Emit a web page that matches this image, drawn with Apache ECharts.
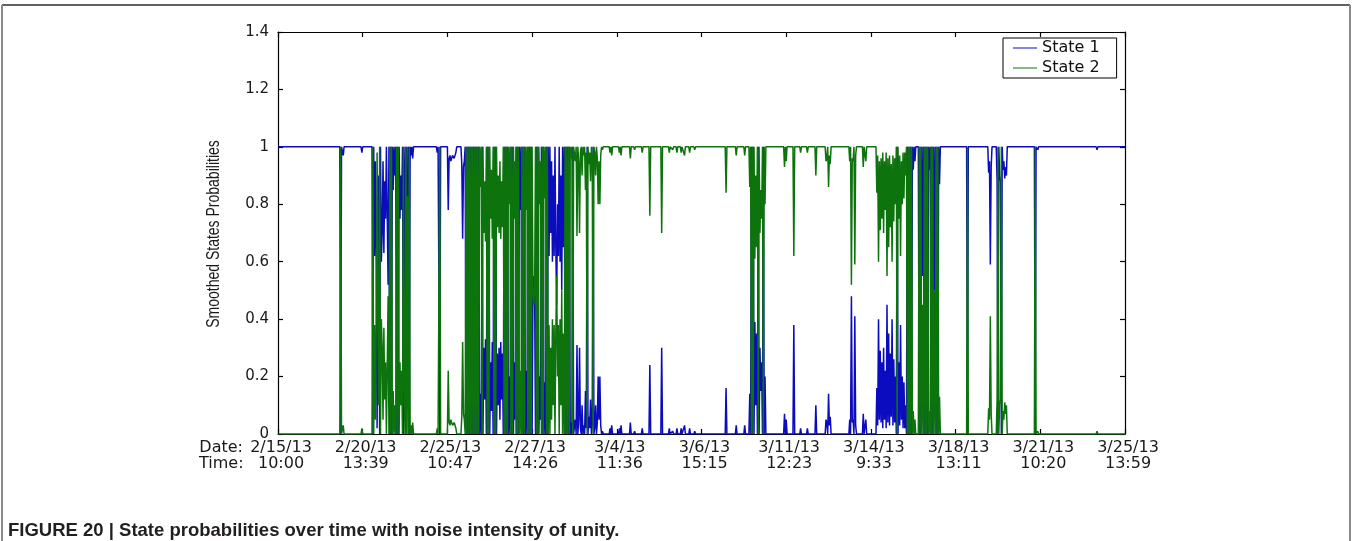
<!DOCTYPE html>
<html>
<head>
<meta charset="utf-8">
<script src="https://cdn.jsdelivr.net/npm/echarts@6/dist/echarts.min.js"></script>
<style>
  html, body { margin: 0; padding: 0; background: #ffffff; }
  #chart { width: 1352px; height: 541px; }
</style>
</head>
<body>
<div id="chart"></div>
<script>
// Tick labels of the sample-index axis (one every 100 samples)
const dateLabels = ['2/15/13', '2/20/13', '2/25/13', '2/27/13', '3/4/13', '3/6/13', '3/11/13', '3/14/13', '3/18/13', '3/21/13', '3/25/13'];
const timeLabels = ['10:00', '13:39', '10:47', '14:26', '11:36', '15:15', '12:23', '9:33', '13:11', '10:20', '13:59'];
const yTickLabels = ['0', '0.2', '0.4', '0.6', '0.8', '1', '1.2', '1.4'];
const seriesNames = ['State 1', 'State 2'];

// Smoothed probability of State 1, as [sample index, probability]
const state1 = [
  [0,1],[73,1],[74,0],[75,1],[77,.97],[78,1],[98,1],[99,.98],[100,1],
  [111,1],[112,0],[113,1],[114,.62],[115,.95],[116,.6],[117,.02],[118,.65],[119,.9],[120,0],[121,1],[122,.6],[123,.7],[124,.95],[125,.63],[126,.88],[127,.75],[128,1],[129,1],[130,.52],[131,1],[132,0],[133,1],[134,0],[135,1],[136,.85],[137,1],[138,.9],[139,1],[140,0],[141,1],[142,0],[143,1],[144,.75],[145,.9],[146,.78],[147,1],[148,0],[149,.85],[150,1],[151,0],[152,1],[153,.17],[154,1],[155,0],[156,1],[157,.97],[158,1],[159,.96],[160,1],
  [187,1],[188,.98],[189,1],[190,1],[191,0],[192,1],[200,1],[201,.78],[202,.96],[203,.97],[204,.95],[206,.97],[208,.96],[210,.98],[211,1],[216,1],[217,.94],[218,.68],[219,.93],[220,.95],[221,1],[222,0],[223,1],
  [224,0],[225,1],[226,0],[227,1],[228,0],[229,1],[230,0],[231,1],[232,0],[233,1],[234,0],[235,1],[236,0],[237,1],[238,0],[239,.14],[240,0],[241,1],[242,0],[243,.3],[244,.12],[245,.33],[246,0],[247,1],[248,0],[249,1],[250,0],[251,.25],[252,.08],[253,.32],[254,0],[255,1],[256,0],[257,1],[258,0],[259,.28],[260,.1],[261,.3],[262,.05],[263,.32],[264,.12],[265,.28],[266,0],[267,1],
  [268,0],[269,1],[270,0],[271,1],[272,0],[273,.2],[274,0],[275,1],[276,0],[277,1],[278,0],[279,.25],[280,.05],[281,1],[282,0],[283,1],[284,0],[285,1],
  [286,.78],[287,1],[288,0],[289,1],[290,0],[291,1],[292,0],[293,.22],[294,0],[295,1],[296,0],[297,1],[298,0],[299,1],[300,0],
  [301,.5],[302,.55],[303,.5],[304,0],[305,1],[306,0],[307,1],[308,0],[309,.2],[310,.05],[311,1],[312,0],[313,1],[314,0],[315,.18],[316,0],[317,1],[318,0],
  [319,1],[320,.62],[321,1],[322,.7],[323,.95],[324,.6],[325,.9],[326,.62],[327,1],[328,.65],[329,.45],[330,.8],[331,.62],[332,1],[333,.6],[334,.9],[335,.5],[336,1],[337,.65],[338,1],
  [339,0],[340,1],[341,0],[342,1],[343,0],[344,1],[345,0],[346,.04],[347,0],[348,1],[349,0],[351,.05],[352,0],[353,.31],[354,0],[355,.05],[356,.3],[357,.02],[358,0],[359,.1],[360,0],[361,.03],[362,0],[363,.15],[364,.02],[365,1],[366,0],[367,.06],[368,.02],[369,.12],[370,0],[371,.03],[372,1],[373,0],[374,.02],[375,.1],[376,0],[377,.04],[378,.2],[379,.05],[380,.2],[381,.03],[382,0],[383,.01],[384,0],
  [391,0],[392,.02],[393,0],[394,.03],[395,0],[402,0],[403,.02],[404,0],[405,.03],[406,0],[415,0],[416,.04],[417,0],[420,0],[421,.01],[422,0],[429,0],[430,.02],[431,0],[438,0],[439,.24],[440,0],[452,0],[453,.3],[454,0],[461,0],[462,.02],[463,0],[466,.01],[467,0],[470,0],[471,.02],[472,0],[475,0],[476,.02],[477,0],[480,.03],[481,0],[485,0],[486,.02],[487,0],[491,0],[492,.01],[493,0],
  [528,0],[529,.16],[530,0],[540,0],[541,.03],[542,0],[550,0],[551,.03],[552,0],[556,0],[557,.14],[558,0],[559,1],[560,0],[561,1],[562,0],[563,.39],[564,.1],[565,.35],[566,0],[567,1],[568,0],[569,.3],[570,.15],[571,.25],[572,0],[573,1],[574,0],[575,.2],[576,0],
  [597,0],[598,.07],[599,0],[600,.05],[601,0],[608,0],[609,.38],[610,0],[616,0],[617,.02],[618,0],[624,0],[625,.02],[626,0],[634,0],[635,.1],[636,0],[646,0],[647,.05],[648,.04],[649,0],[650,.14],[651,.03],[652,.06],[653,0],[674,0],[675,.05],[676,0],[677,.48],[678,.04],[679,.05],[680,0],[681,.41],[682,.03],[683,0],[690,0],[691,.07],[692,0],[694,.05],[695,0],
  [706,0],[707,.16],[708,.03],[709,.4],[710,.05],[711,.29],[712,.04],[713,.25],[714,.02],[715,.3],[716,.05],[717,.22],[718,.02],[719,.45],[720,.04],[721,.35],[722,.03],[723,.28],[724,.06],[725,.4],[726,.03],[727,.26],[728,.04],[729,.2],[730,0],[731,1],[732,0],[733,.25],[734,.03],[735,.38],[736,.05],[737,.2],[738,.02],[739,.18],[740,.02],[741,.1],[742,0],[743,1],[744,0],[745,1],[746,0],[747,1],[748,0],[749,1],
  [750,.92],[751,1],[752,.95],[753,1],[756,1],[757,0],[758,1],[759,0],[760,1],[761,.55],[762,1],[763,0],[764,1],[765,0],[766,1],[767,0],[768,1],[769,.92],[770,1],[771,0],[772,1],[773,0],[774,1],[775,.5],[776,1],[777,0],[778,1],[779,0],[780,1],[781,.87],[782,1],
  [813,1],[814,0],[815,1],[838,1],[839,.91],[840,.95],[841,.59],[842,.93],[843,1],[848,1],[849,.88],[850,0],[851,1],[852,.9],[853,.88],[854,0],[855,1],[856,.92],[857,.95],[858,.89],[859,.93],[860,.9],[861,1],
  [893,1],[894,0],[895,1],[896,1],[897,.99],[898,1],[966,1],[967,.99],[968,1],[1000,1]
];

// Smoothed probability of State 2, as [sample index, probability]
const state2 = [
  [0,0],[73,0],[74,1],[75,0],[77,.03],[78,0],[98,0],[99,.02],[100,0],
  [111,0],[112,1],[113,0],[114,.38],[115,.05],[116,.4],[117,.98],[118,.35],[119,.1],[120,1],[121,0],[122,.4],[123,.3],[124,.05],[125,.37],[126,.12],[127,.25],[128,0],[129,0],[130,.48],[131,0],[132,1],[133,0],[134,1],[135,0],[136,.15],[137,0],[138,.1],[139,0],[140,1],[141,0],[142,1],[143,0],[144,.25],[145,.1],[146,.22],[147,0],[148,1],[149,.15],[150,0],[151,1],[152,0],[153,.83],[154,0],[155,1],[156,0],[157,.03],[158,0],[159,.04],[160,0],
  [187,0],[188,.02],[189,0],[190,0],[191,1],[192,0],[200,0],[201,.22],[202,.04],[203,.03],[204,.05],[206,.03],[208,.04],[210,.02],[211,0],[216,0],[217,.06],[218,.32],[219,.07],[220,.05],[221,0],[222,1],[223,0],
  [224,1],[225,0],[226,1],[227,0],[228,1],[229,0],[230,1],[231,0],[232,1],[233,0],[234,1],[235,0],[236,1],[237,0],[238,1],[239,.86],[240,1],[241,0],[242,1],[243,.7],[244,.88],[245,.67],[246,1],[247,0],[248,1],[249,0],[250,1],[251,.75],[252,.92],[253,.68],[254,1],[255,0],[256,1],[257,0],[258,1],[259,.72],[260,.9],[261,.7],[262,.95],[263,.68],[264,.88],[265,.72],[266,1],[267,0],
  [268,1],[269,0],[270,1],[271,0],[272,1],[273,.8],[274,1],[275,0],[276,1],[277,0],[278,1],[279,.75],[280,.95],[281,0],[282,1],[283,0],[284,1],[285,0],
  [286,.22],[287,0],[288,1],[289,0],[290,1],[291,0],[292,1],[293,.78],[294,1],[295,0],[296,1],[297,0],[298,1],[299,0],[300,1],
  [301,.5],[302,.45],[303,.5],[304,1],[305,0],[306,1],[307,0],[308,1],[309,.8],[310,.95],[311,0],[312,1],[313,0],[314,1],[315,.82],[316,1],[317,0],[318,1],
  [319,0],[320,.38],[321,0],[322,.3],[323,.05],[324,.4],[325,.1],[326,.38],[327,0],[328,.35],[329,.55],[330,.2],[331,.38],[332,0],[333,.4],[334,.1],[335,.5],[336,0],[337,.35],[338,0],
  [339,1],[340,0],[341,1],[342,0],[343,1],[344,0],[345,1],[346,.96],[347,1],[348,0],[349,1],[351,.95],[352,1],[353,.69],[354,1],[355,.95],[356,.7],[357,.98],[358,1],[359,.9],[360,1],[361,.97],[362,1],[363,.85],[364,.98],[365,0],[366,1],[367,.94],[368,.98],[369,.88],[370,1],[371,.97],[372,0],[373,1],[374,.98],[375,.9],[376,1],[377,.96],[378,.8],[379,.95],[380,.8],[381,.97],[382,1],[383,.99],[384,1],
  [391,1],[392,.98],[393,1],[394,.97],[395,1],[402,1],[403,.98],[404,1],[405,.97],[406,1],[415,1],[416,.96],[417,1],[420,1],[421,.99],[422,1],[429,1],[430,.98],[431,1],[438,1],[439,.76],[440,1],[452,1],[453,.7],[454,1],[461,1],[462,.98],[463,1],[466,.99],[467,1],[470,1],[471,.98],[472,1],[475,1],[476,.98],[477,1],[480,.97],[481,1],[485,1],[486,.98],[487,1],[491,1],[492,.99],[493,1],
  [528,1],[529,.84],[530,1],[540,1],[541,.97],[542,1],[550,1],[551,.97],[552,1],[556,1],[557,.86],[558,1],[559,0],[560,1],[561,0],[562,1],[563,.61],[564,.9],[565,.65],[566,1],[567,0],[568,1],[569,.7],[570,.85],[571,.75],[572,1],[573,0],[574,1],[575,.8],[576,1],
  [597,1],[598,.93],[599,1],[600,.95],[601,1],[608,1],[609,.62],[610,1],[616,1],[617,.98],[618,1],[624,1],[625,.98],[626,1],[634,1],[635,.9],[636,1],[646,1],[647,.95],[648,.96],[649,1],[650,.86],[651,.97],[652,.94],[653,1],[674,1],[675,.95],[676,1],[677,.52],[678,.96],[679,.95],[680,1],[681,.59],[682,.97],[683,1],[690,1],[691,.93],[692,1],[694,.95],[695,1],
  [706,1],[707,.84],[708,.97],[709,.6],[710,.95],[711,.71],[712,.96],[713,.75],[714,.98],[715,.7],[716,.95],[717,.78],[718,.98],[719,.55],[720,.96],[721,.65],[722,.97],[723,.72],[724,.94],[725,.6],[726,.97],[727,.74],[728,.96],[729,.8],[730,1],[731,0],[732,1],[733,.75],[734,.97],[735,.62],[736,.95],[737,.8],[738,.98],[739,.82],[740,.98],[741,.9],[742,1],[743,0],[744,1],[745,0],[746,1],[747,0],[748,1],[749,0],
  [750,.08],[751,0],[752,.05],[753,0],[756,0],[757,1],[758,0],[759,1],[760,0],[761,.45],[762,0],[763,1],[764,0],[765,1],[766,0],[767,1],[768,0],[769,.08],[770,0],[771,1],[772,0],[773,1],[774,0],[775,.5],[776,0],[777,1],[778,0],[779,1],[780,0],[781,.13],[782,0],
  [813,0],[814,1],[815,0],[838,0],[839,.09],[840,.05],[841,.41],[842,.07],[843,0],[848,0],[849,.12],[850,1],[851,0],[852,.1],[853,.12],[854,1],[855,0],[856,.08],[857,.05],[858,.11],[859,.07],[860,.1],[861,0],
  [893,0],[894,1],[895,0],[896,0],[897,.01],[898,0],[966,0],[967,.01],[968,0],[1000,0]
];

const chart = echarts.init(document.getElementById('chart'), null, { renderer: 'canvas' });

const frameLine = { color: '#000000', width: 1.2 };
const tickFont = 'DejaVu Sans';
const lineIcon = 'path://M0,0H24V1H0Z';

const boxAxis = (extra) => Object.assign({
  type: 'value',
  axisLine: { show: true, onZero: false, lineStyle: frameLine },
  axisTick: { show: true, inside: true, length: 5, lineStyle: frameLine },
  splitLine: { show: false },
  axisLabel: { show: false }
}, extra);

chart.setOption({
  animation: false,
  backgroundColor: '#ffffff',
  grid: { left: 278, right: 227, top: 32, bottom: 107, containLabel: false },
  legend: {
    data: seriesNames.map((name) => ({ name: name, icon: lineIcon })),
    orient: 'vertical',
    left: 1003,
    top: 38,
    padding: [2, 17, 2, 10],
    itemGap: 4,
    itemWidth: 24,
    itemHeight: 14,
    backgroundColor: '#ffffff',
    borderColor: '#000000',
    borderWidth: 1,
    borderRadius: 0,
    selectedMode: false,
    textStyle: { fontFamily: tickFont, fontSize: 16, color: '#111111' }
  },
  xAxis: [
    boxAxis({
      min: 0, max: 1000, interval: 100, position: 'bottom',
      axisLabel: {
        show: true,
        margin: 6,
        fontFamily: tickFont,
        fontSize: 16,
        lineHeight: 16,
        color: '#1a1a1a',
        padding: [0, 0, 0, 6],
        formatter: (v) => {
          const i = Math.round(v / 100);
          return dateLabels[i] + '\n' + timeLabels[i];
        }
      }
    }),
    boxAxis({ min: 0, max: 1000, interval: 100, position: 'top' })
  ],
  yAxis: [
    boxAxis({
      min: 0, max: 1.4, interval: 0.2, position: 'left',
      axisLabel: {
        show: true,
        margin: 9,
        fontFamily: tickFont,
        fontSize: 15,
        color: '#1a1a1a',
        formatter: (v) => yTickLabels[Math.round(v / 0.2)]
      }
    }),
    boxAxis({ min: 0, max: 1.4, interval: 0.2, position: 'right' })
  ],
  series: [
    {
      name: seriesNames[0],
      type: 'line',
      data: state1,
      symbol: 'none',
      showSymbol: false,
      smooth: false,
      clip: true,
      color: '#0b0bc0',
      lineStyle: { color: '#0b0bc0', width: 1.5 },
      z: 2
    },
    {
      name: seriesNames[1],
      type: 'line',
      data: state2,
      symbol: 'none',
      showSymbol: false,
      smooth: false,
      clip: true,
      color: '#0d730d',
      lineStyle: { color: '#0d730d', width: 1.5 },
      z: 3
    }
  ],
  graphic: [
    { type: 'line', silent: true, shape: { x1: 2, y1: 5, x2: 1350, y2: 5 }, style: { stroke: '#2b2b2b', lineWidth: 1.5 } },
    { type: 'line', silent: true, shape: { x1: 2, y1: 5, x2: 2, y2: 541 }, style: { stroke: '#8a8a8a', lineWidth: 2 } },
    { type: 'line', silent: true, shape: { x1: 1350, y1: 5, x2: 1350, y2: 541 }, style: { stroke: '#8a8a8a', lineWidth: 2 } },
    {
      // y-axis title, drawn tall and narrow
      type: 'text', silent: true, x: 214, y: 234, rotation: Math.PI / 2, scaleY: 1.35,
      style: { text: 'Smoothed States Probabilities', align: 'center', verticalAlign: 'middle', font: '14px "Liberation Sans", Arial, sans-serif', fill: '#1a1a1a' }
    },
    { type: 'text', silent: true, x: 243, y: 448, style: { text: 'Date:', align: 'right', verticalAlign: 'middle', font: '16px "DejaVu Sans"', fill: '#1a1a1a' } },
    { type: 'text', silent: true, x: 199, y: 464, style: { text: 'Time:', align: 'left', verticalAlign: 'middle', font: '16px "DejaVu Sans"', fill: '#1a1a1a' } },
    { type: 'text', silent: true, x: 8, y: 531, style: { text: 'FIGURE 20 | State probabilities over time with noise intensity of unity.', align: 'left', verticalAlign: 'middle', font: 'bold 18.5px "Liberation Sans", Arial, sans-serif', fill: '#231f20' } }
  ]
});
</script>
</body>
</html>
